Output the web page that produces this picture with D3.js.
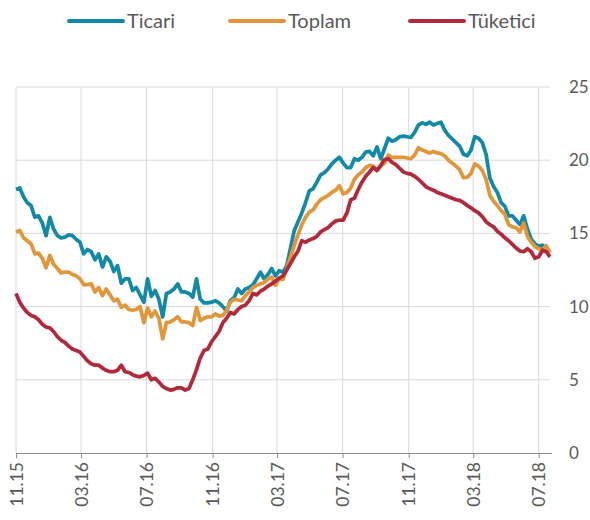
<!DOCTYPE html>
<html>
<head>
<meta charset="utf-8">
<script src="https://cdn.jsdelivr.net/npm/d3@7"></script>
<style>
  body { margin: 0; background: #fff; }
  text { font-family: Lato, "Open Sans", sans-serif; fill: #595959; }
</style>
</head>
<body>
<div id="chart"></div>
<script>
// weekly series, first week = start of Nov 2015
const startDate = "2015-11-01";
const ticari = [18.0,18.1,17.5,17.1,16.9,16.1,16.2,15.7,14.85,16.1,15.3,14.85,14.7,14.75,14.9,14.85,14.6,14.4,13.6,13.9,
  13.75,13.2,13.6,12.7,13.4,13.1,12.4,12.8,11.6,11.9,11.9,11.1,11.3,10.8,10.3,11.9,10.7,11.1,10.5,9.3,
  10.9,11.0,11.2,11.55,11.0,11.0,10.9,10.65,11.9,10.5,10.25,10.25,10.3,10.4,10.25,10.0,9.7,10.4,10.6,11.2,
  10.9,11.2,11.3,11.5,11.9,12.35,11.9,12.2,12.6,12.1,12.45,12.35,12.8,14.0,15.2,15.8,16.4,17.1,17.9,18.05,
  18.5,19.0,19.15,19.4,19.75,20.0,20.2,19.8,19.5,19.5,20.1,20.0,20.2,20.55,20.6,20.3,20.9,20.1,20.8,21.5,
  21.3,21.4,21.6,21.65,21.6,21.55,21.9,22.4,22.55,22.45,22.6,22.4,22.5,22.6,22.05,21.7,21.45,21.2,20.95,20.4,
  20.3,20.7,21.6,21.5,21.2,20.4,18.8,18.2,17.8,17.1,16.85,16.2,16.2,15.9,15.6,16.2,15.3,14.6,14.3,14.1,
  14.2,14.0,13.7];
const toplam = [15.1,15.2,14.7,14.5,14.3,13.6,13.65,13.3,12.65,13.5,12.9,12.6,12.3,12.35,12.35,12.2,12.1,11.9,11.5,11.5,
  11.55,11.0,11.3,10.75,11.2,10.8,10.4,10.5,9.95,10.1,9.8,9.75,9.8,10.0,8.9,9.9,9.3,9.7,9.2,7.8,
  8.9,8.95,9.1,9.3,8.95,8.95,8.9,8.7,9.95,9.05,9.2,9.3,9.3,9.5,9.35,9.4,9.75,10.3,10.5,10.45,
  10.4,10.75,11.0,11.3,11.45,11.55,11.65,11.9,12.0,11.45,11.9,11.85,12.6,13.4,14.2,14.9,15.6,16.1,16.45,16.6,
  17.0,17.3,17.45,17.6,17.8,17.95,18.25,17.7,17.8,18.1,18.7,19.0,19.2,19.5,19.65,19.6,19.3,19.6,19.8,20.35,
  20.2,20.2,20.2,20.2,20.15,20.1,20.35,20.85,20.7,20.6,20.5,20.6,20.5,20.45,20.3,20.0,19.8,19.6,19.35,18.8,
  18.85,19.1,19.75,19.6,19.3,18.7,17.6,17.2,16.9,16.55,16.3,15.6,15.45,15.4,15.1,15.7,14.8,14.4,14.1,13.95,
  13.9,14.15,13.7];
const tuketici = [10.9,10.3,9.9,9.6,9.4,9.3,9.1,8.8,8.6,8.55,8.3,7.95,7.7,7.55,7.3,7.1,7.0,6.9,6.6,6.3,
  6.1,6.0,6.0,5.8,5.65,5.55,5.55,5.65,6.0,5.55,5.5,5.35,5.25,5.2,5.3,5.45,5.0,5.1,4.85,4.55,
  4.4,4.3,4.35,4.45,4.45,4.3,4.4,5.0,5.7,6.5,7.0,7.1,7.6,7.95,8.3,8.9,9.2,9.6,9.5,9.8,
  10.0,10.1,10.4,10.9,10.8,11.05,11.2,11.4,11.55,11.75,11.95,12.1,12.5,12.95,13.4,13.8,14.5,14.4,14.55,14.65,
  14.8,15.1,15.25,15.4,15.65,15.85,15.9,15.9,16.4,17.3,17.4,18.0,18.5,18.9,19.2,19.5,19.3,19.65,20.05,20.1,
  19.85,19.7,19.45,19.2,19.1,19.05,18.9,18.7,18.45,18.2,18.05,17.95,17.8,17.7,17.6,17.5,17.4,17.3,17.25,17.1,
  16.9,16.75,16.55,16.4,16.15,15.8,15.6,15.45,15.15,14.95,14.7,14.5,14.25,14.0,13.8,13.75,13.95,13.75,13.3,13.4,
  13.85,13.75,13.4];

const seriesNames = ["Ticari", "Toplam", "Tüketici"];
const seriesColors = ["#1389a8", "#e1963a", "#b12a3b"];
const xTickLabels = ["11.15", "03.16", "07.16", "11.16", "03.17", "07.17", "11.17", "03.18", "07.18"];
const yTicks = [0, 5, 10, 15, 20, 25];

const W = 590, H = 520;
const margin = { top: 87, right: 40, bottom: 67, left: 16 };

const parseTick = d3.timeParse("%m.%y");
const start = d3.timeParse("%Y-%m-%d")(startDate);
const dates = d3.range(ticari.length).map(i => d3.timeDay.offset(start, 7 * i));

const series = [ticari, toplam, tuketici].map((vals, k) => ({
  name: seriesNames[k],
  color: seriesColors[k],
  values: vals.map((v, i) => ({ date: dates[i], value: v }))
}));

const svg = d3.select("#chart").append("svg")
  .attr("width", W)
  .attr("height", H);

const x = d3.scaleTime()
  .domain([start, dates[dates.length - 1]])
  .range([margin.left, W - margin.right]);

const y = d3.scaleLinear()
  .domain([0, 25])
  .range([H - margin.bottom, margin.top]);

// horizontal gridlines
svg.append("g")
  .selectAll("line")
  .data(yTicks.slice(1))
  .join("line")
  .attr("x1", margin.left)
  .attr("x2", W - margin.right)
  .attr("y1", d => y(d))
  .attr("y2", d => y(d))
  .attr("stroke", "#d9d9d9")
  .attr("stroke-width", 1);

// vertical gridlines
const tickDates = xTickLabels.map(parseTick);
svg.append("g")
  .selectAll("line")
  .data(tickDates)
  .join("line")
  .attr("x1", d => x(d))
  .attr("x2", d => x(d))
  .attr("y1", y(25))
  .attr("y2", y(0))
  .attr("stroke", "#d9d9d9")
  .attr("stroke-width", 1);

// bottom axis
const xAxis = svg.append("g")
  .attr("transform", `translate(0,${y(0)})`)
  .call(d3.axisBottom(x)
    .tickValues(tickDates)
    .tickFormat(d3.timeFormat("%m.%y"))
    .tickSizeOuter(0)
    .tickSize(5));
xAxis.select(".domain")
  .attr("stroke", "#8c8c8c")
  .attr("d", `M${margin.left},0.5H${W - margin.right + 2}`);
xAxis.selectAll(".tick line").attr("stroke", "#8c8c8c");
xAxis.selectAll(".tick text")
  .attr("transform", "rotate(-90)")
  .attr("text-anchor", "end")
  .attr("x", -9)
  .attr("y", 0)
  .attr("dy", "0.35em")
  .style("font-size", "17.5px")
  .style("font-family", "Lato, sans-serif")
  .attr("fill", "#595959");

// right axis labels
svg.append("g")
  .selectAll("text")
  .data(yTicks)
  .join("text")
  .attr("x", W - margin.right + 19)
  .attr("y", d => y(d))
  .attr("dy", "0.35em")
  .style("font-size", "17px")
  .text(d => d);

// lines
const line = d3.line()
  .x(d => x(d.date))
  .y(d => y(d.value));

svg.append("g")
  .selectAll("path")
  .data(series)
  .join("path")
  .attr("d", d => line(d.values))
  .attr("fill", "none")
  .attr("stroke", d => d.color)
  .attr("stroke-width", 3.75)
  .attr("stroke-linejoin", "round");

// legend
const legendX = [69, 230, 410];
const leg = svg.append("g")
  .selectAll("g")
  .data(series)
  .join("g")
  .attr("transform", (d, i) => `translate(${legendX[i]},21)`);
leg.append("line")
  .attr("x1", 0).attr("x2", 54)
  .attr("stroke", d => d.color)
  .attr("stroke-width", 4)
  .attr("stroke-linecap", "round");
leg.append("text")
  .attr("x", 58)
  .attr("dy", "0.35em")
  .style("font-size", "20px")
  .text(d => d.name);
</script>
</body>
</html>
